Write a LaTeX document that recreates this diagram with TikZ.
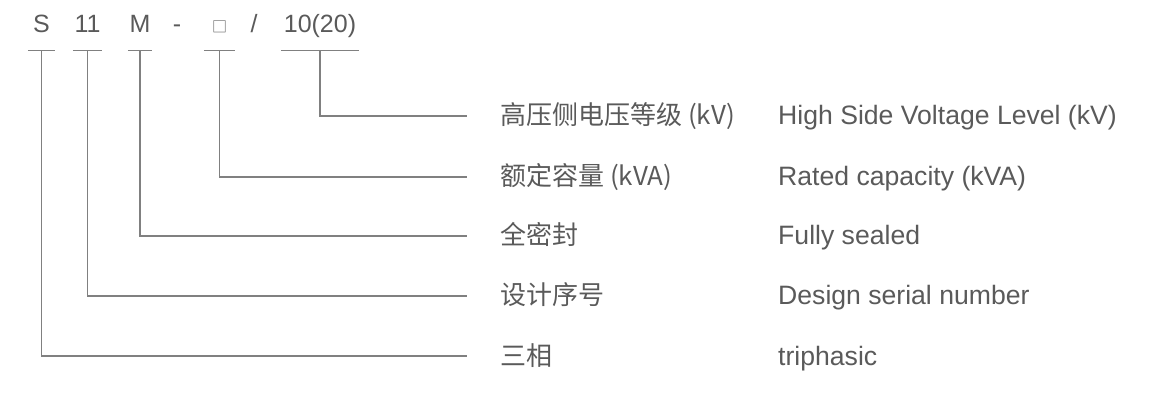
\documentclass[tikz,border=0pt]{standalone}
\usepackage{fontspec}
\setmainfont{Liberation Sans}
\newfontfamily\cjk{Noto Sans CJK SC}
\usetikzlibrary{positioning}
\definecolor{txtgray}{HTML}{5A5A5A}
\definecolor{linegray}{HTML}{808080}
\tikzset{
  code/.style={inner xsep=0pt, inner ysep=17pt, text height=18pt, text depth=0pt,
    anchor=base, text=txtgray, font=\fontsize{25}{30}\selectfont},
  tick/.style={draw=linegray, line width=1.2pt},
  lead/.style={draw=linegray, line width=1.2pt, shorten >=33pt},
  cn/.style={inner sep=0pt, text height=20pt, text depth=2pt, anchor=west,
    text=txtgray, font=\fontsize{26}{30}\selectfont\cjk},
  en/.style={inner sep=0pt, text height=20pt, text depth=2pt, anchor=west,
    text=txtgray, font=\fontsize{26.6}{30}\selectfont}
}
\begin{document}
\begin{tikzpicture}[x=1pt, y=-1pt]
\useasboundingbox (0,0) rectangle (1154,403);

% model code
\node[code, minimum width=27pt] (s) at (41.5,33) {S};
\node[code, minimum width=29pt] (n11) at (87.5,33) {11};
\node[code, minimum width=24pt] (m) at (140,33) {M};
\node[code] (dash) at (177,33) {-};
\node[code, minimum width=31pt] (box) at (219.5,33) {{\cjk\fontsize{15}{15}\selectfont □}};
\node[code] (slash) at (254,33) {/};
\node[code, minimum width=78pt] (volt) at (320,33) {10(20)};

\foreach \n in {s, n11, m, box, volt}
  \draw[tick] (\n.south west) -- (\n.south east);

% descriptions
\node[cn] (gaoya) at (500,116) {高压侧电压等级 (kV)};
\node[cn] (rongliang) at (500,177) {额定容量 (kVA)};
\node[cn] (mifeng) at (500,236) {全密封};
\node[cn] (xuhao) at (500,296) {设计序号};
\node[cn] (sanxiang) at (500,356) {三相};

\node[en] (en-gaoya) at (778,116) {High Side Voltage Level (kV)};
\node[en] (en-rongliang) at (778,177) {Rated capacity (kVA)};
\node[en] (en-mifeng) at (778,236) {Fully sealed};
\node[en] (en-xuhao) at (778,296) {Design serial number};
\node[en] (en-sanxiang) at (778,356) {triphasic};

\draw[lead] (volt.south) |- (gaoya.west);
\draw[lead] (box.south) |- (rongliang.west);
\draw[lead] (m.south) |- (mifeng.west);
\draw[lead] (n11.south) |- (xuhao.west);
\draw[lead] (s.south) |- (sanxiang.west);
\end{tikzpicture}
\end{document}
